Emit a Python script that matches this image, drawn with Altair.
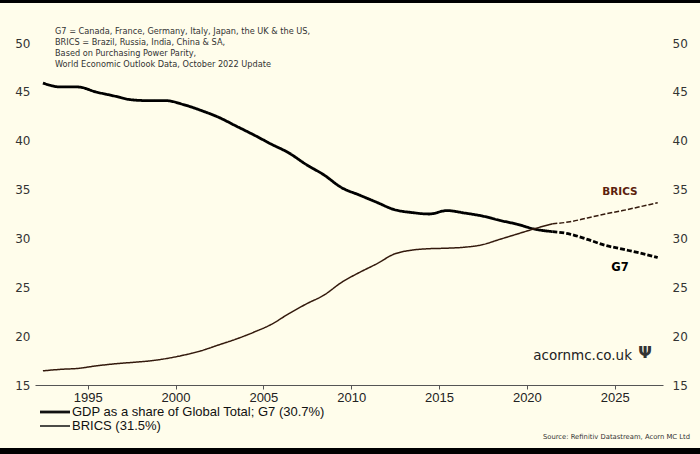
import altair as alt
import pandas as pd

# Share of world GDP (PPP), per cent; 2022 onwards are IMF projections
years = list(range(1992, 2028))
g7 = [45.9, 45.5, 45.5, 45.0, 44.6, 44.2, 44.1, 44.1, 43.7, 43.1, 42.4, 41.5,
      40.6, 39.65, 38.75, 37.55, 36.5, 35.2, 34.45, 33.7, 32.95, 32.65, 32.5, 32.85,
      32.6, 32.3, 31.85, 31.45, 30.95, 30.7, 30.45, 29.9, 29.3, 28.9, 28.5, 28.05]
brics = [16.45, 16.6, 16.7, 16.95, 17.15, 17.3, 17.45, 17.7, 18.05, 18.5, 19.1, 19.7,
         20.4, 21.2, 22.3, 23.3, 24.2, 25.5, 26.5, 27.4, 28.4, 28.8, 28.95, 29.0,
         29.1, 29.35, 29.9, 30.45, 31.0, 31.5, 31.7, 32.1, 32.5, 32.85, 33.25, 33.65]
last_actual = 2021

x_ticks = [1995, 2000, 2005, 2010, 2015, 2020, 2025]
y_ticks = [15, 20, 25, 30, 35, 40, 45, 50]

notes = [
    "G7 = Canada, France, Germany, Italy, Japan, the UK & the US,",
    "BRICS = Brazil, Russia, India, China & SA,",
    "Based on Purchasing Power Parity,",
    "World Economic Outlook Data, October 2022 Update",
]
idx = years.index(last_actual)
legend_labels = [
    f"GDP as a share of Global Total; G7 ({g7[idx]:.1f}%)",
    f"BRICS ({brics[idx]:.1f}%)",
]
legend_widths = [2.8, 1.5]
series_names = ["G7", "BRICS"]
source_text = "Source: Refinitiv Datastream, Acorn MC Ltd"
brand_text = "acornmc.co.uk"

G7_COLOR = "#000000"
BRICS_COLOR = "#33190c"
BG = "#fffdeb"

rows = []
for name, vals in zip(series_names, [g7, brics]):
    for yr, v in zip(years, vals):
        t = yr + 0.45
        if yr <= last_actual:
            rows.append({"series": name, "phase": "actual", "t": t, "v": v})
        if yr >= last_actual:
            rows.append({"series": name, "phase": "forecast", "t": t, "v": v})
df = pd.DataFrame(rows)

x_scale = alt.Scale(domain=[1992.0, 2027.75], nice=False, zero=False)
y_scale = alt.Scale(domain=[15, 50], nice=False, zero=False)

x_axis = alt.Axis(values=x_ticks, format="d", title=None, grid=False,
                  domainColor="#555", tickColor="#555", tickSize=4,
                  labelFont="Liberation Sans", labelFontSize=13, labelColor="#222",
                  labelPadding=2)
y_left = alt.Axis(values=y_ticks, orient="left", title=None, grid=False, domain=False,
                  ticks=False, labelFont="DejaVu Sans", labelFontSize=12,
                  labelColor="#333", labelPadding=5)
y_right = alt.Axis(values=y_ticks, orient="right", title=None, grid=False, domain=False,
                   ticks=False, labelFont="DejaVu Sans", labelFontSize=12,
                   labelColor="#333", labelPadding=9)

lines = alt.Chart(df).mark_line(interpolate="monotone").encode(
    x=alt.X("t:Q", scale=x_scale, axis=x_axis),
    y=alt.Y("v:Q", scale=y_scale, axis=y_left),
    color=alt.Color("series:N", scale=alt.Scale(domain=series_names,
                                                range=[G7_COLOR, BRICS_COLOR]), legend=None),
    strokeWidth=alt.StrokeWidth("series:N", scale=alt.Scale(domain=series_names,
                                                            range=[2.8, 1.5]), legend=None),
    strokeDash=alt.StrokeDash("phase:N", scale=alt.Scale(domain=["actual", "forecast"],
                                                         range=[[1, 0], [5, 2]]), legend=None),
    detail="phase:N",
)

right_axis = alt.Chart(df).mark_line(opacity=0).encode(
    x=alt.X("t:Q", scale=x_scale, axis=None),
    y=alt.Y("v:Q", scale=y_scale, axis=y_right),
    detail="series:N",
)

# series names placed beside the projected segments
lbl_df = pd.DataFrame({"name": ["BRICS", "G7"], "t": [2025.3, 2025.3], "v": [34.75, 26.95],
                       "c": ["#5c1f0e", G7_COLOR], "s": [10.5, 11.5]})
series_lbl = alt.Chart(lbl_df).mark_text(font="DejaVu Sans", fontWeight="bold").encode(
    x=alt.X("t:Q", scale=x_scale, axis=None),
    y=alt.Y("v:Q", scale=y_scale, axis=None),
    text="name:N",
    color=alt.Color("c:N", scale=None),
    size=alt.Size("s:Q", scale=None),
)

one = alt.Data(values=[{}])

note_txt = alt.Chart(one).mark_text(align="left", baseline="middle", font="DejaVu Sans",
                                    fontSize=8.2, lineHeight=11, color="#333").encode(
    x=alt.value(20), y=alt.value(-11), text=alt.value(notes))

# hand-drawn legend below the axis
legend_layers = []
for i, (label, w) in enumerate(zip(legend_labels, legend_widths)):
    row_y = 369 + 14 * i
    legend_layers.append(alt.Chart(one).mark_rule(color="#111", strokeWidth=w).encode(
        x=alt.value(5), x2=alt.value(35), y=alt.value(row_y)))
    legend_layers.append(alt.Chart(one).mark_text(
        align="left", baseline="middle", font="Liberation Sans", fontSize=13,
        color="#111").encode(x=alt.value(37), y=alt.value(row_y), text=alt.value(label)))

brand = alt.Chart(one).mark_text(align="right", baseline="middle", font="DejaVu Sans",
                                 fontSize=13.5, color="#222").encode(
    x=alt.value(597), y=alt.value(313), text=alt.value(brand_text))
tree = alt.Chart(one).mark_text(align="center", baseline="middle", font="DejaVu Sans",
                                fontSize=16, fontWeight="bold", color="#333").encode(
    x=alt.value(610), y=alt.value(310), text=alt.value("Ψ"))
source = alt.Chart(one).mark_text(align="right", baseline="middle", font="DejaVu Sans",
                                  fontSize=6.8, color="#333").encode(
    x=alt.value(655), y=alt.value(394), text=alt.value(source_text))

border_top = alt.Chart(one).mark_rect(color="#000").encode(
    x=alt.value(-35), x2=alt.value(665), y=alt.value(-43), y2=alt.value(-40))
border_bot = alt.Chart(one).mark_rect(color="#000").encode(
    x=alt.value(-35), x2=alt.value(665), y=alt.value(405), y2=alt.value(411))

chart = alt.layer(
    lines, right_axis, series_lbl, note_txt, *legend_layers,
    brand, tree, source, border_top, border_bot,
).resolve_axis(x="independent", y="independent").resolve_scale(
    x="shared", y="shared"
).properties(
    width=628, height=342,
    autosize=alt.AutoSizeParams(type="none"),
    padding={"left": 35, "top": 43, "right": 37, "bottom": 69},
    background=BG,
).configure_view(stroke=None)

chart.save("out.html", embed_options={"renderer": "svg", "actions": False})
